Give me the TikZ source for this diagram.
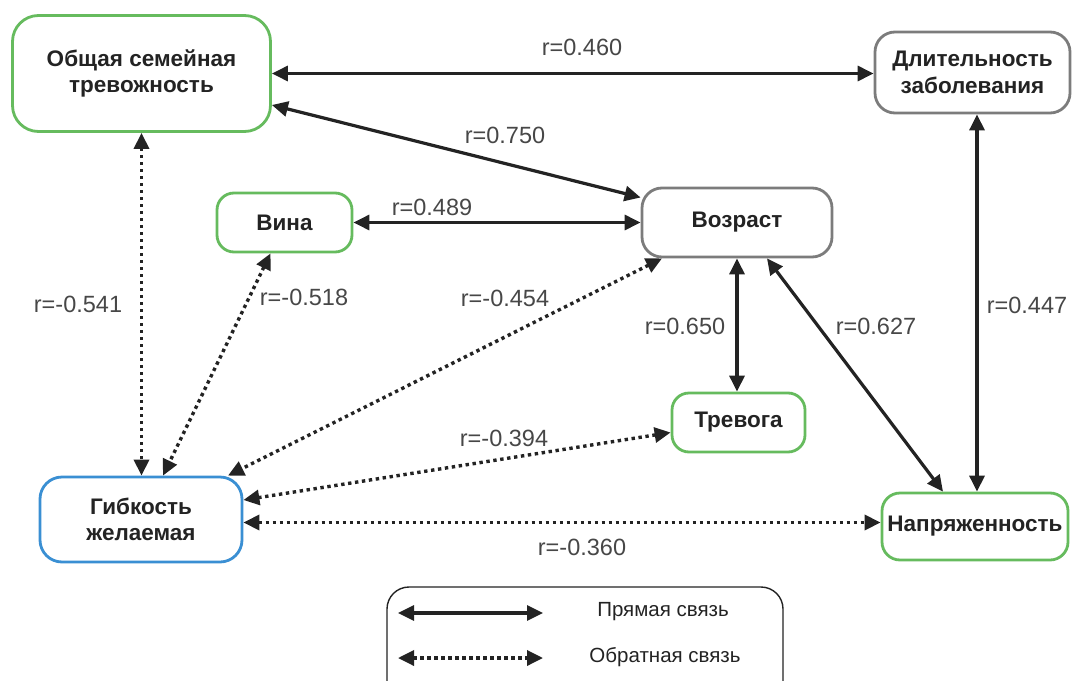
\documentclass[tikz,border=0pt]{standalone}
\usepackage{fontspec}
\setmainfont{Liberation Sans}
\usetikzlibrary{arrows.meta,calc}
\definecolor{grn}{HTML}{66BB5E}
\definecolor{blu}{HTML}{3A8FD3}
\definecolor{gry}{HTML}{7C7C7C}
\definecolor{ink}{HTML}{232323}
\definecolor{lab}{HTML}{474747}
\begin{document}
\begin{tikzpicture}[x=1pt,y=-1pt,
  box/.style={draw, line width=2.8pt, fill=white, align=center, text=ink,
    font=\fontsize{22.5}{26.5}\selectfont\bfseries, inner sep=0pt},
  sol/.style={line width=3.2pt, draw=ink, {Triangle[length=16pt,width=15pt]}-{Triangle[length=16pt,width=15pt]}},
  dot/.style={line width=3.4pt, draw=ink, dash pattern=on 3.4pt off 3.6pt,
    {Triangle[length=16pt,width=15pt]}-{Triangle[length=16pt,width=15pt]}},
  lbl/.style={text=lab, font=\fontsize{23.5}{27}\selectfont, inner sep=0pt},
  leg/.style={text=ink, font=\fontsize{20.5}{24}\selectfont, inner sep=0pt}]
\useasboundingbox (0,0) rectangle (1073,680);

% nodes
\node[box, draw=grn, minimum width=258pt, minimum height=116pt, rounded corners=26pt] (ob) at (141.5,73.5) {Общая семейная\\тревожность};
\node[box, draw=gry, minimum width=195pt, minimum height=81pt, rounded corners=20pt] (dl) at (972.5,72.5) {Длительность\\заболевания};
\node[box, draw=gry, minimum width=190pt, minimum height=69pt, rounded corners=20pt] (voz) at (737,222.5) {Возраст};
\node[box, draw=grn, minimum width=135pt, minimum height=59pt, rounded corners=17pt] (vi) at (284.5,222.5) {Вина};
\node[box, draw=grn, minimum width=133pt, minimum height=59pt, rounded corners=17pt] (tr) at (738.5,422.5) {Тревога};
\node[box, draw=blu, minimum width=202pt, minimum height=85pt, rounded corners=22pt] (gib) at (141,519.5) {Гибкость\\желаемая};
\node[box, draw=grn, minimum width=186pt, minimum height=67pt, rounded corners=18pt] (nap) at (975,526.5) {Напряженность};

% direct links
\draw[sol] (ob.east) -- (ob.east -| dl.west);
\draw[sol] ([yshift=-31.5pt]ob.east) -- ([yshift=25pt]voz.west);
\draw[sol] (vi.east) -- (vi.east -| voz.west);
\draw[sol] (voz.south) -- (voz.south |- tr.north);
\draw[sol] ([xshift=30pt]voz.south) -- ([xshift=-32pt]nap.north);
\draw[sol] ([xshift=4.5pt]dl.south) -- ([xshift=4.5pt]dl.south |- nap.north);

% inverse links
\draw[dot] (ob.south) -- (ob.south |- gib.north);
\draw[dot] ([xshift=-14pt]vi.south) -- ([xshift=22pt]gib.north);
\draw[dot] ([xshift=-75pt]voz.south) -- ([xshift=87pt]gib.north);
\draw[dot] ([yshift=-10pt]tr.west) -- ([yshift=19.5pt]gib.east);
\draw[dot] ([yshift=-3pt]gib.east) -- ([yshift=-3pt]gib.east -| nap.west);

% labels
\node[lbl] (l1) at (582,47) {r=0.460};
\node[lbl] (l2) at (505,135) {r=0.750};
\node[lbl] (l3) at (432,207) {r=0.489};
\node[lbl] (l4) at (685,326) {r=0.650};
\node[lbl] (l5) at (876,326) {r=0.627};
\node[lbl] (l6) at (1027,305) {r=0.447};
\node[lbl] (l7) at (78,304) {r=-0.541};
\node[lbl] (l8) at (304,297) {r=-0.518};
\node[lbl] (l9) at (505,298) {r=-0.454};
\node[lbl] (l10) at (504,438) {r=-0.394};
\node[lbl] (l11) at (582,547) {r=-0.360};

% legend
\node[draw=ink, line width=1.4pt, rounded corners=22pt, minimum width=396pt, minimum height=120pt, inner sep=0pt] (lg) at (585,647) {};
\coordinate (a1) at (398,613);
\coordinate (a2) at (543,613);
\coordinate (b1) at (398,658);
\coordinate (b2) at (543,658);
\draw[sol] (a1) -- (a2);
\draw[dot] (b1) -- (b2);
\node[leg] (t1) at (663,612) {Прямая связь};
\node[leg] (t2) at (665,657) {Обратная связь};
\end{tikzpicture}
\end{document}
